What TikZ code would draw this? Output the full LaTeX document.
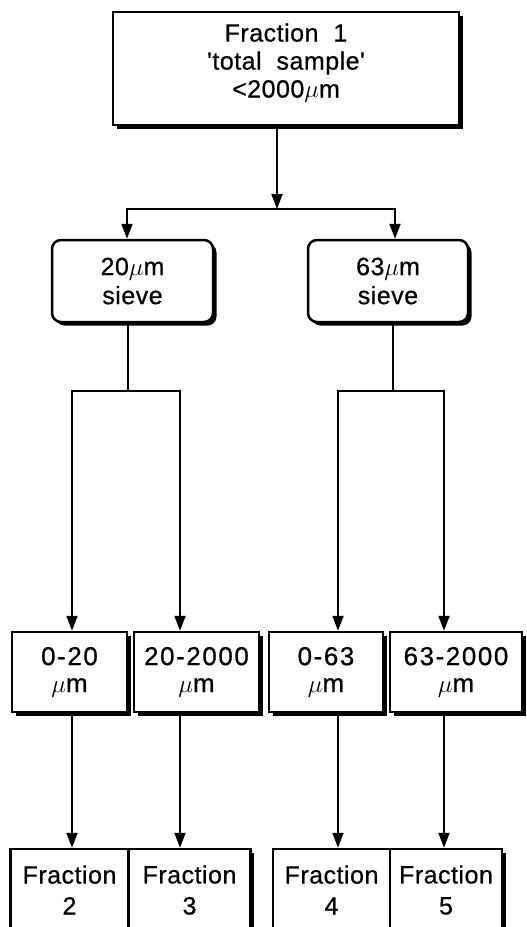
\documentclass[tikz,border=0pt]{standalone}
\usepackage{fontspec}
\newfontfamily\labelfont[LetterSpace=2,WordSpace=2,FakeBold=0.6]{Liberation Sans}
\newfontfamily\rangefont[LetterSpace=6,FakeBold=0.6]{Liberation Sans}
\usetikzlibrary{positioning,arrows.meta,shadows}

\tikzset{
  box/.style={draw, line width=2.5pt, fill=white, align=center, inner sep=0pt,
    font=\labelfont\fontsize{25pt}{28pt}\selectfont,
    drop shadow={shadow xshift=3.5pt, shadow yshift=-3.5pt, fill=black, opacity=1}},
  sievebox/.style={box, rounded corners=9pt, font=\labelfont\fontsize{25pt}{29pt}\selectfont},
  rangebox/.style={box, minimum height=80pt, font=\rangefont\fontsize{26pt}{27pt}\selectfont},
  fracbox/.style={box, minimum height=82pt, font=\labelfont\fontsize{25pt}{31pt}\selectfont}
}

\begin{document}
\begin{tikzpicture}[x=1pt, y=-1pt, on grid, line width=2pt,
    >={Triangle[width=11pt,length=15pt]}]
    \useasboundingbox (0,0) rectangle (527,927);
    % start
    \node[box, minimum width=346pt, minimum height=113pt, text depth=16pt](top) at (286,68.5)
      {Fraction 1\\'total sample'\\<2000$\mu$m};
    % sieves
    \node[sievebox, minimum width=161pt, minimum height=82pt, below left=212.5pt and 153.5pt of top](s20){20$\mu$m\\sieve};
    \node[sievebox, minimum width=160pt, minimum height=82pt, right=255.5pt of s20](s63){63$\mu$m\\sieve};
    % size classes
    \node[rangebox, minimum width=115pt, below left=391pt and 63pt of s20](m1){0-20\\$\mu$m};
    \node[rangebox, minimum width=125pt, right=127pt of m1](m2){20-2000\\$\mu$m};
    \node[rangebox, minimum width=114pt, right=129.5pt of m2](m3){0-63\\$\mu$m};
    \node[rangebox, minimum width=132pt, right=130pt of m3](m4){63-2000\\$\mu$m};
    % fractions
    \node[fracbox, minimum width=118pt, below=218pt of m1](f2){Fraction\\2};
    \node[fracbox, minimum width=122pt, right=120pt of f2](f3){Fraction\\3};
    \node[fracbox, minimum width=117pt, below=218pt of m3, xshift=5.5pt](f4){Fraction\\4};
    \node[fracbox, minimum width=112pt, right=114.5pt of f4](f5){Fraction\\5};
    % junctions
    \coordinate (j1) at (277,209);
    \coordinate (hl) at (127,209);
    \coordinate (hr) at (395,209);
    \coordinate (k20) at (128,391);
    \coordinate (k63) at (393,391);
    \coordinate (a1) at (72,391);
    \coordinate (a2) at (180,391);
    \coordinate (a3) at (338,391);
    \coordinate (a4) at (444,391);
    \draw[->] (top.south -| j1) -- (j1);
    \draw[<->] (hl |- s20.north) -- (hl) -- (hr) -- (hr |- s63.north);
    \draw (s20.south -| k20) -- (k20);
    \draw (s63.south -| k63) -- (k63);
    \draw[<->] (a1 |- m1.north) -- (a1) -- (a2) -- (a2 |- m2.north);
    \draw[<->] (a3 |- m3.north) -- (a3) -- (a4) -- (a4 |- m4.north);
    \draw[->] (m1.south -| a1) -- (a1 |- f2.north);
    \draw[->] (m2.south -| a2) -- (a2 |- f3.north);
    \draw[->] (m3.south -| a3) -- (a3 |- f4.north);
    \draw[->] (m4.south -| a4) -- (a4 |- f5.north);
  \end{tikzpicture}
\end{document}
